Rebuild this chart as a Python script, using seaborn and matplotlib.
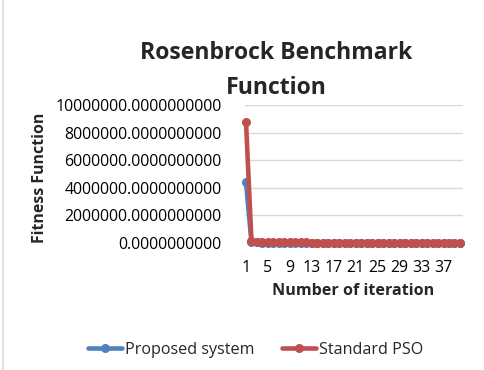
import matplotlib
matplotlib.use("Agg")
import matplotlib.pyplot as plt
import seaborn as sns
import pandas as pd
import numpy as np
from matplotlib.lines import Line2D

sns.set_style("white")
plt.rcParams['font.family'] = ['Open Sans', 'DejaVu Sans']

iterations = list(range(1, 41))
proposed = [4400000, 60000, 40000, 30000, 25000, 20000, 18000, 16000, 14000, 12000,
            11000, 10000, 9000, 8000, 7500, 7000, 6500, 6000, 5500, 5000,
            4800, 4600, 4400, 4200, 4000, 3800, 3600, 3400, 3200, 3000,
            2900, 2800, 2700, 2600, 2500, 2400, 2300, 2200, 2100, 2000]
standard = [8800000, 120000, 90000, 80000, 70000, 60000, 55000, 50000, 46000, 42000,
            40000, 38000, 36000, 34000, 32000, 30000, 29000, 28000, 27000, 26000,
            25000, 24000, 23000, 22000, 21000, 20000, 19500, 19000, 18500, 18000,
            17500, 17000, 16500, 16000, 15500, 15000, 14500, 14000, 13500, 13000]
series_names = ["Proposed system", "Standard PSO"]
colors = ["#4F81BD", "#C0504D"]
tick_labels = [1, 5, 9, 13, 17, 21, 25, 29, 33, 37]
y_ticks = [0, 2000000, 4000000, 6000000, 8000000, 10000000]

df = pd.DataFrame({
    "iteration": iterations * 2,
    "value": proposed + standard,
    "series": [series_names[0]] * len(iterations) + [series_names[1]] * len(iterations),
})

fig = plt.figure(figsize=(4.84, 3.70), dpi=100)
ax = fig.add_axes([245/484, 1 - 243/370, 218/484, 138/370])

sns.lineplot(data=df, x="iteration", y="value", hue="series", palette=colors,
             marker="o", markersize=6.5, markeredgewidth=0, linewidth=3.3,
             ax=ax, legend=False)
for ln in ax.lines:
    ln.set_clip_on(False)
    ln.set_solid_capstyle("round")

ax.set_xlim(0.82, 40.55)
ax.set_ylim(0, 10000000)
ax.set_xticks(tick_labels)
ax.set_xticklabels([str(t) for t in tick_labels])
ax.set_yticks(y_ticks)
ax.set_yticklabels([f"{v:.10f}" for v in y_ticks])
ax.tick_params(axis="both", length=0, labelsize=11.4, colors="black")
ax.tick_params(axis="y", pad=17)
ax.tick_params(axis="x", pad=12)
ax.yaxis.grid(True, color="#d9d9d9", linewidth=1)
ax.set_axisbelow(True)
for s in ax.spines.values():
    s.set_visible(False)

ax.set_xlabel("")
ax.set_ylabel("")
fig.text(353/484, 1 - 291/370, "Number of iteration", fontsize=11.6,
         fontweight="bold", ha="center", va="center")
fig.text(40/484, 1 - 178/370, "Fitness Function", rotation=90, fontsize=11.4,
         fontweight="bold", ha="center", va="center")

fig.text(276/484, 1 - 53/370, "Rosenbrock Benchmark", fontsize=16.6, fontweight="bold",
         ha="center", va="center")
fig.text(276/484, 1 - 88/370, "Function", fontsize=16.6, fontweight="bold",
         ha="center", va="center")

handles = [Line2D([0], [0], color=c, linewidth=3.3, marker="o", markersize=6.5,
                  markeredgewidth=0) for c in colors]
fig.legend(handles, series_names, loc="center", bbox_to_anchor=(256/484, 1 - 350/370),
           ncol=2, frameon=False, fontsize=11.6, handlelength=2.1, handletextpad=0.2,
           columnspacing=1.7)

fig.add_artist(Line2D([3/484, 3/484], [0, 1], color="#d9d9d9", linewidth=1.2,
                      transform=fig.transFigure))

fig.savefig("out.png", dpi=100)
